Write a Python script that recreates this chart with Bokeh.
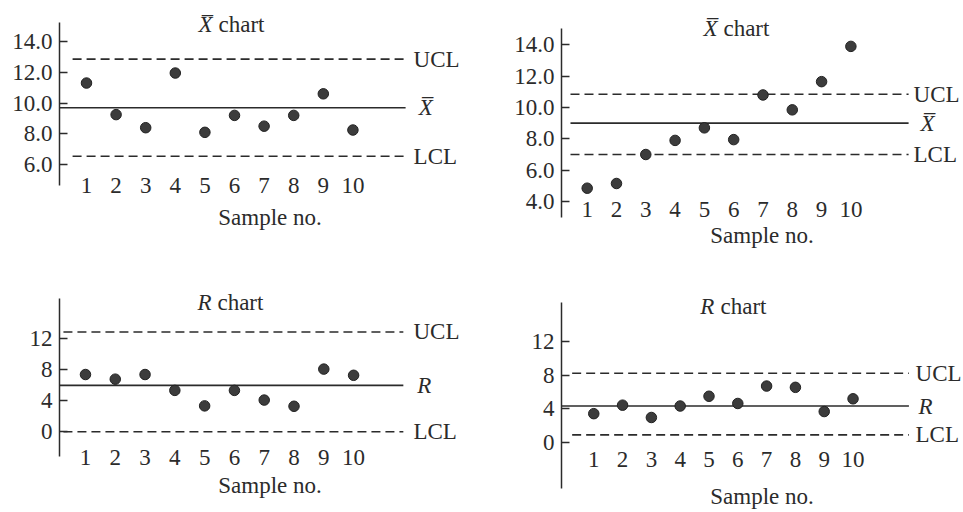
from bokeh.plotting import figure
from bokeh.models import Label, FixedTicker, PrintfTickFormatter
from bokeh.layouts import column, row
from bokeh.embed import file_html
from bokeh.resources import INLINE

# ---------------- data ----------------
samples = [1, 2, 3, 4, 5, 6, 7, 8, 9, 10]

# top-left X-bar chart
xbar_a = [11.3, 9.25, 8.4, 11.95, 8.1, 9.2, 8.5, 9.2, 10.6, 8.25]
xbar_a_ucl = 12.85
xbar_a_center = 9.7
xbar_a_lcl = 6.55
xbar_a_ticks = [6, 8, 10, 12, 14]

# top-right X-bar chart
xbar_b = [4.85, 5.15, 7.0, 7.9, 8.7, 7.95, 10.8, 9.85, 11.65, 13.9]
xbar_b_ucl = 10.85
xbar_b_center = 9.0
xbar_b_lcl = 7.0
xbar_b_ticks = [4, 6, 8, 10, 12, 14]

# bottom-left R chart
r_a = [7.4, 6.8, 7.4, 5.35, 3.35, 5.35, 4.1, 3.3, 8.1, 7.3]
r_a_ucl = 12.9
r_a_center = 6.0
r_a_lcl = 0.0

# bottom-right R chart
r_b = [3.45, 4.45, 3.0, 4.35, 5.5, 4.65, 6.7, 6.55, 3.7, 5.2]
r_b_ucl = 8.2
r_b_center = 4.35
r_b_lcl = 0.95
r_ticks = [0, 4, 8, 12]

XBAR = "X\u0305"
FONT = "Liberation Serif"
FS = "23px"
INK = "#2b2b2b"
DOT = "#3c3c3c"


def panel(vals, ucl, cl, lcl, yticks, yfmt, sym, g):
    p = figure(width=g["w"], height=g["h"], x_range=g["xr"], y_range=g["yr"],
               output_backend="svg", toolbar_location=None, tools="",
               min_border_left=g["bl"], min_border_right=0,
               min_border_top=g["bt"], min_border_bottom=g["bb"])
    p.background_fill_color = "white"
    p.border_fill_color = "white"
    p.outline_line_color = None
    p.grid.visible = False

    ya = p.yaxis[0]
    ya.ticker = FixedTicker(ticks=yticks)
    ya.formatter = PrintfTickFormatter(format=yfmt)
    ya.bounds = g["yb"]
    ya.major_tick_in = 8
    ya.major_tick_out = 0
    ya.minor_tick_line_color = None
    ya.axis_line_color = INK
    ya.axis_line_width = 1.5
    ya.major_tick_line_color = INK
    ya.major_tick_line_width = 1.5
    ya.major_label_standoff = 7
    ya.major_label_text_font = FONT
    ya.major_label_text_font_size = FS
    ya.major_label_text_color = INK

    xa = p.xaxis[0]
    xa.ticker = FixedTicker(ticks=samples)
    xa.bounds = (g["xr"][0], g["end"])
    xa.axis_line_color = None
    xa.major_tick_line_color = None
    xa.minor_tick_line_color = None
    xa.major_tick_in = 0
    xa.major_tick_out = 0
    xa.major_label_standoff = g["xs"]
    xa.major_label_text_font = FONT
    xa.major_label_text_font_size = FS
    xa.major_label_text_color = INK
    xa.axis_label = "Sample no."
    xa.axis_label_standoff = g["als"]
    xa.axis_label_text_font = FONT
    xa.axis_label_text_font_size = FS
    xa.axis_label_text_font_style = "normal"
    xa.axis_label_text_color = INK

    p.segment(x0=g["ds"], x1=g["end"], y0=ucl, y1=ucl, line_color=INK,
              line_width=1.6, line_dash="9 5")
    p.segment(x0=g["ss"], x1=g["end"], y0=cl, y1=cl, line_color=INK,
              line_width=1.6)
    p.segment(x0=g["ds"], x1=g["end"], y0=lcl, y1=lcl, line_color=INK,
              line_width=1.6, line_dash="9 5")

    p.scatter(samples, vals, size=10.5, fill_color=DOT, line_color="#222222",
              line_width=1)

    def lab(x, y, text, italic=False):
        p.add_layout(Label(x=x, y=y, text=text, text_font=FONT,
                           text_font_size=FS, text_color=INK,
                           text_baseline="middle",
                           text_font_style="italic" if italic else "normal"))

    lab(g["lx"], ucl, "UCL")
    lab(g["sx"], cl, sym, italic=True)
    lab(g["lx"], lcl, "LCL")
    lab(g["tx"], g["ty"], sym, italic=True)
    lab(g["tx2"], g["ty"], "chart")
    return p


g1 = dict(w=480, h=260, bl=59, bt=10, bb=43, xr=(0.088, 14.31), yr=(2.57, 16.01),
          yb=(4.65, 15.2), end=11.78, ds=0.53, ss=0.088, lx=12.05, sx=12.22,
          tx=4.78, tx2=5.46, ty=15.07, xs=-40, als=9)
g2 = dict(w=482, h=260, bl=81, bt=10, bb=43, xr=(0.123, 13.81), yr=(2.98, 16.19),
          yb=(2.98, 15.04), end=11.97, ds=0.43, ss=0.43, lx=12.14, sx=12.38,
          tx=4.97, tx2=5.65, ty=15.07, xs=-16, als=3)
g3 = dict(w=480, h=251, bl=59, bt=30, bb=21, xr=(0.128, 14.26), yr=(-7.32, 18.25),
          yb=(-3.23, 17.23), end=11.67, ds=0.26, ss=0.128, lx=12.01, sx=12.14,
          tx=4.76, tx2=5.43, ty=16.72, xs=-39, als=5)
g4 = dict(w=482, h=251, bl=81, bt=30, bb=21, xr=(-0.12, 13.80), yr=(-5.36, 17.95),
          yb=(-5.36, 16.58), end=11.94, ds=0.25, ss=-0.12, lx=12.17, sx=12.27,
          tx=4.70, tx2=5.40, ty=16.1, xs=-37, als=14)

p1 = panel(xbar_a, xbar_a_ucl, xbar_a_center, xbar_a_lcl, xbar_a_ticks, "%.1f", XBAR, g1)
p2 = panel(xbar_b, xbar_b_ucl, xbar_b_center, xbar_b_lcl, xbar_b_ticks, "%.1f", XBAR, g2)
p3 = panel(r_a, r_a_ucl, r_a_center, r_a_lcl, r_ticks, "%d", "R", g3)
p4 = panel(r_b, r_b_ucl, r_b_center, r_b_lcl, r_ticks, "%d", "R", g4)

layout = column(row(p1, p2), row(p3, p4))
open("out.html", "w").write(file_html(layout, INLINE))
